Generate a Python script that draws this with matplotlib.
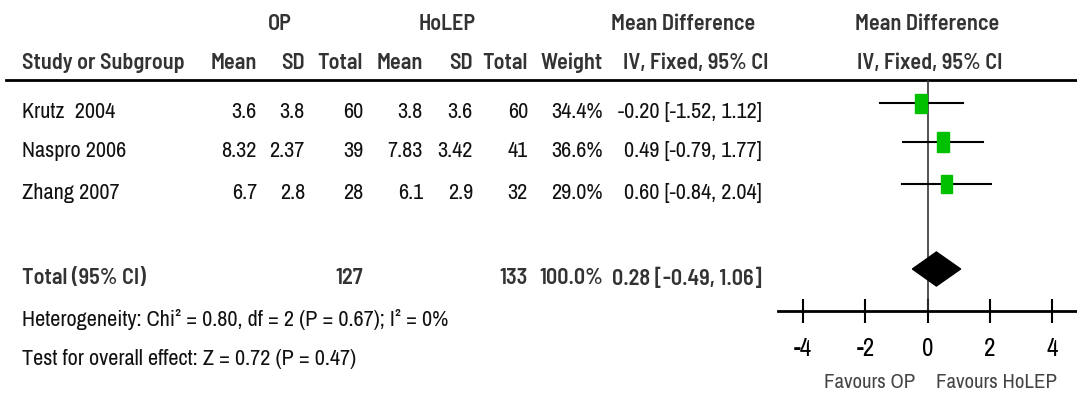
import matplotlib
matplotlib.use('Agg')
import matplotlib.pyplot as plt
from matplotlib.patches import Rectangle, Polygon

plt.rcParams['font.family'] = ['Liberation Sans Narrow', 'Archivo Narrow', 'DejaVu Sans']
BOLD = ['Liberation Sans Narrow', 'Barlow Semi Condensed', 'DejaVu Sans']

# data
studies = ['Krutz  2004', 'Naspro 2006', 'Zhang 2007']
op_mean = ['3.6', '8.32', '6.7']
op_sd = ['3.8', '2.37', '2.8']
op_n = [60, 39, 28]
ho_mean = ['3.8', '7.83', '6.1']
ho_sd = ['3.6', '3.42', '2.9']
ho_n = [60, 41, 32]
weights = [34.4, 36.6, 29.0]
md = [-0.20, 0.49, 0.60]
lo = [-1.52, -0.79, -0.84]
hi = [1.12, 1.77, 2.04]
tot_md, tot_lo, tot_hi = 0.28, -0.49, 1.06
tot_op, tot_ho = 127, 133
het_text = 'Heterogeneity: Chi² = 0.80, df = 2 (P = 0.67); I² = 0%'
z_text = 'Test for overall effect: Z = 0.72 (P = 0.47)'
xticks = [-4, -2, 0, 2, 4]

W, H = 1077, 400
fig = plt.figure(figsize=(W / 100, H / 100), dpi=100)
tab = fig.add_axes([0, 0, 1, 1])
tab.set_xlim(0, W)
tab.set_ylim(H, 0)
tab.axis('off')

fs = 16
hc = '#333333'
tc = '#111111'


def btext(x, y, s, ha):
    tab.text(x, y, s, ha=ha, va='center', fontsize=fs, fontweight='semibold', family=BOLD, color=hc)


# header
btext(280, 24, 'OP', 'center')
btext(447, 24, 'HoLEP', 'center')
btext(683, 24, 'Mean Difference', 'center')
btext(927, 24, 'Mean Difference', 'center')
btext(22, 63, 'Study or Subgroup', 'left')
cols = [257, 305, 363, 423, 473, 528, 603]
for x, s in zip(cols, ['Mean', 'SD', 'Total', 'Mean', 'SD', 'Total', 'Weight']):
    btext(x, 63, s, 'right')
btext(696, 63, 'IV, Fixed, 95% CI', 'center')
btext(930, 63, 'IV, Fixed, 95% CI', 'center')
tab.plot([6, W], [80, 80], color='black', lw=2)

# rows
row_y = [103, 142, 184]
for i, y in enumerate(row_y):
    ty = y + 9
    tab.text(22, ty, studies[i], ha='left', va='center', fontsize=fs, color=tc)
    vals = [op_mean[i], op_sd[i], str(op_n[i]), ho_mean[i], ho_sd[i], str(ho_n[i]), '%.1f%%' % weights[i]]
    for x, s in zip(cols, vals):
        tab.text(x, ty, s, ha='right', va='center', fontsize=fs, color=tc)
    tab.text(762, ty, '%.2f [%.2f, %.2f]' % (md[i], lo[i], hi[i]), ha='right', va='center', fontsize=fs, color=tc)

tot_y = 269
btext(22, tot_y + 9, 'Total (95% CI)', 'left')
btext(363, tot_y + 9, str(tot_op), 'right')
btext(528, tot_y + 9, str(tot_ho), 'right')
btext(603, tot_y + 9, '100.0%', 'right')
btext(762, tot_y + 9, '%.2f [%.2f, %.2f]' % (tot_md, tot_lo, tot_hi), 'right')
tab.text(22, 319, het_text, ha='left', va='center', fontsize=fs, color=tc)
tab.text(22, 359, z_text, ha='left', va='center', fontsize=fs, color=tc)

# forest plot
x0, x1, ytop, yax = 778, W, 80, 311
ax = fig.add_axes([x0 / W, (H - yax) / H, (x1 - x0) / W, (yax - ytop) / H])
ax.set_xlim(-4.81, 4.80)
ax.set_ylim(yax, ytop)
ax.patch.set_alpha(0)
for s in ['top', 'right', 'left']:
    ax.spines[s].set_visible(False)
ax.spines['bottom'].set_linewidth(2)
ax.set_yticks([])
ax.set_xticks(xticks)
ax.set_xticklabels([str(t) for t in xticks], fontsize=18)
ax.tick_params(axis='x', direction='inout', length=17, width=1.5, pad=10, colors='black')
ax.axvline(0, color='#333333', lw=1.2)

px_unit = (x1 - x0) / (4.80 + 4.81)
for i, y in enumerate(row_y):
    ax.plot([lo[i], hi[i]], [y, y], color='black', lw=1.5, zorder=2)
    wpx = 12 * (weights[i] / 34.4) ** 0.5
    hpx = 19 * (weights[i] / 34.4) ** 0.5
    w = wpx / px_unit
    ax.add_patch(Rectangle((md[i] - w / 2, y - hpx / 2), w, hpx, facecolor='#00c000',
                           edgecolor='#00c000', zorder=3))
ax.add_patch(Polygon([(tot_lo, tot_y), (tot_md, tot_y - 17), (tot_hi, tot_y), (tot_md, tot_y + 17)],
                     closed=True, facecolor='black', edgecolor='black', zorder=3))

tab.text(870, 382, 'Favours OP', ha='center', va='center', fontsize=15, color='#444444')
tab.text(997, 382, 'Favours HoLEP', ha='center', va='center', fontsize=15, color='#444444')

fig.savefig('out.png', dpi=100)
